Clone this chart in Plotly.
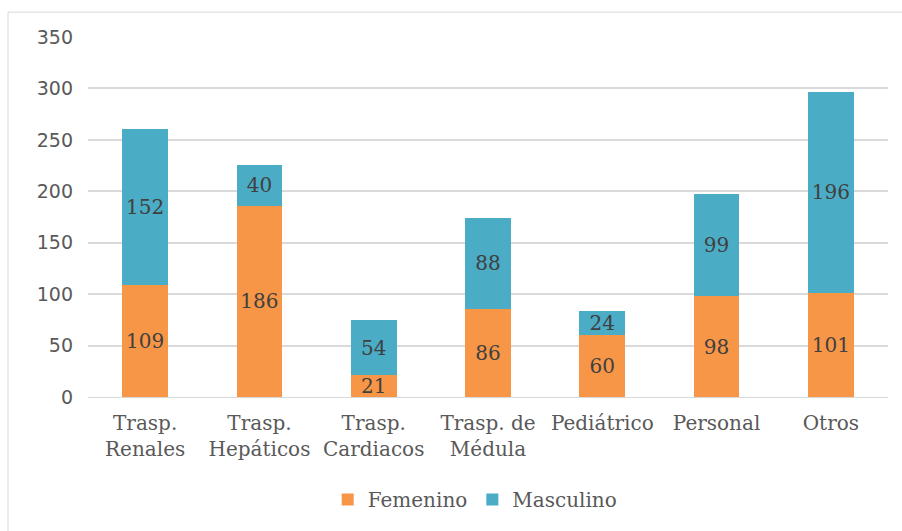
import plotly.graph_objects as go

categories = ["Trasp.<br>Renales", "Trasp.<br>Hepáticos", "Trasp.<br>Cardiacos",
              "Trasp. de<br>Médula", "Pediátrico", "Personal", "Otros"]
femenino = [109, 186, 21, 86, 60, 98, 101]
masculino = [152, 40, 54, 88, 24, 99, 196]
y_ticks = [0, 50, 100, 150, 200, 250, 300, 350]

serif = "DejaVu Serif"
sans = "DejaVu Sans"

fig = go.Figure()
fig.add_trace(go.Bar(
    x=categories, y=femenino, name="Femenino", marker_color="#F79646",
    marker_line_width=0,
    text=femenino, textposition="inside", insidetextanchor="middle", textangle=0,
    textfont=dict(family=serif, size=20, color="#404040"),
))
fig.add_trace(go.Bar(
    x=categories, y=masculino, name="Masculino", marker_color="#4BACC6",
    marker_line_width=0,
    text=masculino, textposition="inside", insidetextanchor="middle", textangle=0,
    textfont=dict(family=serif, size=20, color="#404040"),
))

fig.update_layout(
    barmode="stack",
    bargap=0.6,
    width=902, height=531,
    margin=dict(l=88, r=14, t=37, b=132),
    paper_bgcolor="white",
    plot_bgcolor="white",
    uniformtext=dict(minsize=20, mode="show"),
    showlegend=True,
    legend=dict(orientation="h", x=0.484, xanchor="center", y=-0.285, yanchor="middle",
                font=dict(family=serif, size=20, color="#595959"),
                itemwidth=30, traceorder="normal"),
    xaxis=dict(tickfont=dict(family=serif, size=20, color="#595959"),
               showline=True, linecolor="#D9D9D9", linewidth=1, ticks="",
               ticklabelstandoff=8),
    yaxis=dict(range=[0, 350], tickvals=y_ticks, showgrid=True, gridcolor="#D9D9D9",
               gridwidth=1.5, zeroline=False, ticks="", ticklabelstandoff=14,
               tickfont=dict(family=sans, size=19, color="#595959")),
    shapes=[dict(type="rect", xref="paper", yref="paper", x0=-0.1, x1=1.2,
                 y0=-0.6, y1=1.069, line=dict(color="#D9D9D9", width=1),
                 fillcolor="rgba(0,0,0,0)", layer="below")],
)

fig.write_html("out.html")
